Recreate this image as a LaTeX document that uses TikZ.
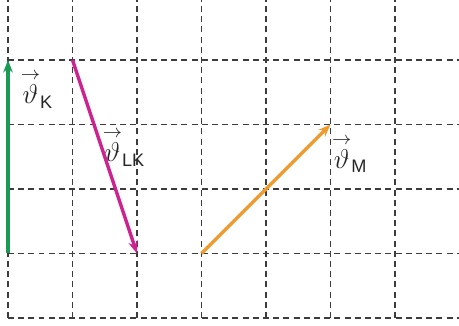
\documentclass[tikz,border=0pt]{standalone}
\usepackage{amsmath}
\usepackage{fontspec}
\setsansfont{Liberation Sans}
\usetikzlibrary{arrows.meta}
\definecolor{vgruen}{RGB}{25,155,85}
\definecolor{vmagenta}{RGB}{205,35,145}
\definecolor{vorange}{RGB}{240,155,45}
\definecolor{gitterfarbe}{RGB}{60,60,60}
\tikzset{
	gitter/.style={gitterfarbe, line width=0.75pt, dash pattern=on 2.6pt off 1.9pt},
	vektor/.style={line width=1.5pt, -{Stealth[length=5.5pt,width=4.2pt]}},
	vlabel/.style={inner sep=0pt, font=\large, text=black!85}
}

\begin{document}
\begin{tikzpicture}[x=1cm, y=1cm]
	\useasboundingbox (-0.124,-0.124) rectangle (6.992,4.93);
	% Raster
	\foreach \i in {0,...,7} {
		\draw[gitter] (\i,0) -- (\i,4.93);
	}
	\foreach \j in {0,...,4} {
		\draw[gitter] (0,\j) -- (7.1,\j);
	}
	% Punkte
	\coordinate (K0) at (0,1);
	\coordinate (K1) at (0,4);
	\coordinate (LK0) at (1,4);
	\coordinate (LK1) at (2,1);
	\coordinate (M0) at (3,1);
	\coordinate (M1) at (5,3);
	% Vektoren
	\draw[vektor, vgruen] (K0) -- (K1);
	\draw[vektor, vmagenta] (LK0) -- (LK1);
	\draw[vektor, vorange] (M0) -- (M1);
	\node[vlabel] (lK) at (0.45,3.55) {$\overset{\rightarrow}{\vartheta}_{\textsf{K}}$};
	\node[vlabel] (lLK) at (1.8,2.65) {$\overset{\rightarrow}{\vartheta}_{\textsf{LK}}$};
	\node[vlabel] (lM) at (5.3,2.55) {$\overset{\rightarrow}{\vartheta}_{\textsf{M}}$};
\end{tikzpicture}
\end{document}
